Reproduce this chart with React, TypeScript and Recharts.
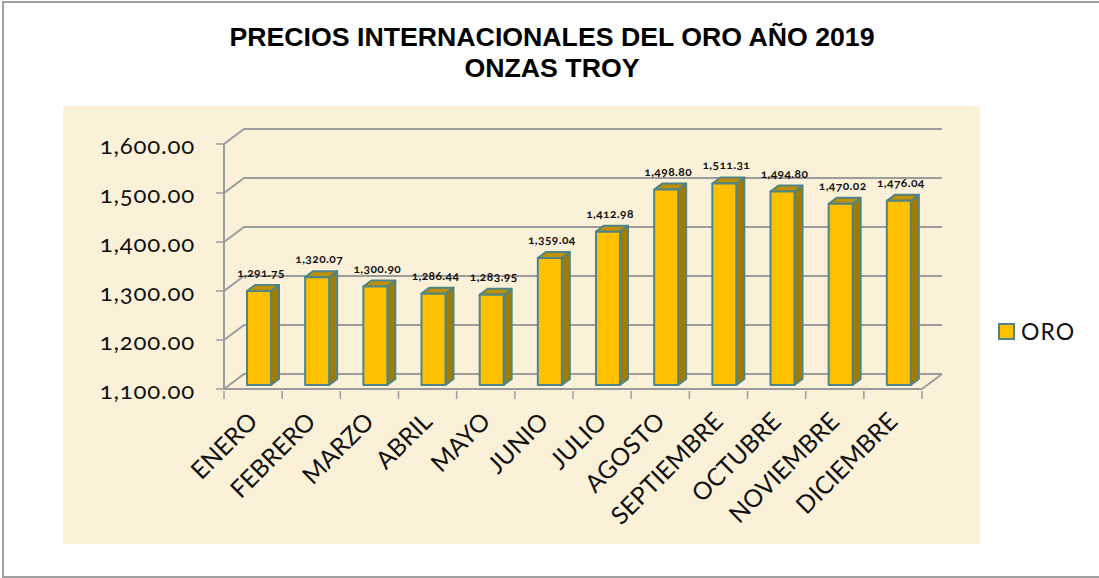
import { Bar, BarChart, CartesianGrid, LabelList, Legend, XAxis, YAxis } from "recharts";

const months = [
  "ENERO", "FEBRERO", "MARZO", "ABRIL", "MAYO", "JUNIO",
  "JULIO", "AGOSTO", "SEPTIEMBRE", "OCTUBRE", "NOVIEMBRE", "DICIEMBRE",
];
const oro = [
  1291.75, 1320.07, 1300.9, 1286.44, 1283.95, 1359.04,
  1412.98, 1498.8, 1511.31, 1494.8, 1470.02, 1476.04,
];
const yTicks = [1100, 1200, 1300, 1400, 1500, 1600];
const titleLines = ["PRECIOS INTERNACIONALES DEL ORO AÑO 2019", "ONZAS TROY"];

const data = months.map((month, i) => ({ month, ORO: oro[i] }));

const W = 1099;
const H = 578;
const GRID = "#9c9c9c";
const EDGE = "#4f8587";
const FONT = "Lato, 'Open Sans', sans-serif";
const DEPTH_X = 20;
const DEPTH_Y = 15;

const money = (v: number) =>
  v.toLocaleString("en-US", { minimumFractionDigits: 2, maximumFractionDigits: 2 });

// front face, side and top of a fake 3D column, sitting mid way in the floor
function Column3D({ x, y, width, height }: any) {
  const left = x + 6;
  const right = left + width;
  const top = y - 4;
  const bottom = top + height;
  const dx = 8;
  const dy = 6;
  const common = { stroke: EDGE, strokeWidth: 2, strokeLinejoin: "round" as const };
  return (
    <g>
      <path
        d={`M${right},${top} L${right + dx},${top - dy} L${right + dx},${bottom - dy} L${right},${bottom} Z`}
        fill="#a07c00"
        {...common}
      />
      <path
        d={`M${left},${top} L${left + dx},${top - dy} L${right + dx},${top - dy} L${right},${top} Z`}
        fill="#bf9000"
        {...common}
      />
      <rect x={left} y={top} width={width} height={height} fill="#ffc000" {...common} />
    </g>
  );
}

function ValueLabel({ x, y, width, value }: any) {
  return (
    <text
      x={x + width / 2 + 8}
      y={y - 18}
      textAnchor="middle"
      fontFamily={FONT}
      fontSize={12}
      fontWeight={700}
      letterSpacing={0.4}
      fill="#111"
      style={{ fontVariantNumeric: "oldstyle-nums" }}
    >
      {money(value)}
    </text>
  );
}

// the ticks of this chart fall between the months, so they are drawn here
function MonthTick({ x, y, payload, index, visibleTicksCount, width }: any) {
  const half = width / months.length / 2;
  const axisY = y - 8;
  const mark = { stroke: GRID, strokeWidth: 1.5 };
  return (
    <g>
      <line x1={x - half} x2={x - half} y1={axisY} y2={axisY + 8} {...mark} />
      {index === visibleTicksCount - 1 ? (
        <line x1={x + half} x2={x + half} y1={axisY} y2={axisY + 8} {...mark} />
      ) : null}
      <text
        x={x + 6}
        y={y + 24}
        textAnchor="end"
        transform={`rotate(-45 ${x + 6} ${y + 24})`}
        fontFamily={FONT}
        fontSize={24.5}
        fill="#111"
      >
        {payload.value}
      </text>
    </g>
  );
}

function ValueTick({ x, y, payload }: any) {
  return (
    <text
      x={x - 19}
      y={y + 10}
      textAnchor="end"
      fontFamily={FONT}
      fontSize={24}
      letterSpacing={0.8}
      fill="#111"
      style={{ fontVariantNumeric: "oldstyle-nums" }}
    >
      {money(payload.value)}
    </text>
  );
}

// back wall line plus the diagonal that joins it to the front axis
function WallLine({ x1, x2, y1, index }: any) {
  const line = { stroke: GRID, strokeWidth: 2, fill: "none" };
  return (
    <g key={index}>
      <path d={`M${x1},${y1} L${x1 + DEPTH_X},${y1 - DEPTH_Y} L${x2 + DEPTH_X},${y1 - DEPTH_Y}`} {...line} />
      {y1 > 380 ? <path d={`M${x2},${y1} L${x2 + DEPTH_X},${y1 - DEPTH_Y}`} {...line} /> : null}
    </g>
  );
}

function OroLegend() {
  return (
    <div style={{ display: "flex", alignItems: "center", fontFamily: FONT, fontSize: 23, letterSpacing: 1, color: "#111" }}>
      <span
        style={{
          width: 13,
          height: 13,
          background: "#ffc000",
          border: `2px solid ${EDGE}`,
          marginRight: 6,
          display: "inline-block",
        }}
      />
      ORO
    </div>
  );
}

export default function App() {
  return (
    <div style={{ position: "absolute", left: 0, top: 0, width: W, height: H, background: "#fff", overflow: "hidden" }}>
      <div
        style={{
          position: "absolute",
          left: 2,
          top: 1,
          width: W,
          height: H - 1,
          borderLeft: "2px solid #a0a0a0",
          borderTop: "2px solid #a0a0a0",
          borderBottom: "2px solid #a0a0a0",
          boxSizing: "border-box",
        }}
      />
      <div style={{ position: "absolute", left: 63, top: 106, width: 917, height: 438, background: "#fbf1d9" }} />
      <div
        style={{
          position: "absolute",
          left: 0,
          top: 22,
          width: 1104,
          textAlign: "center",
          fontFamily: "'Liberation Sans', Arial, sans-serif",
          fontWeight: 700,
          fontSize: 26.7,
          lineHeight: "31px",
          color: "#000",
        }}
      >
        {titleLines.map((t) => (
          <div key={t}>{t}</div>
        ))}
      </div>
      <div style={{ position: "absolute", left: 0, top: 0 }}>
        <BarChart
          width={W}
          height={H}
          data={data}
          barCategoryGap={0}
          margin={{ top: 144, right: 87, bottom: 49, left: 124 }}
        >
          <CartesianGrid vertical={false} horizontal={(props: any) => <WallLine {...props} />} />
          <XAxis
            dataKey="month"
            interval={0}
            height={140}
            tick={<MonthTick />}
            tickLine={false}
            tickSize={8}
            axisLine={{ stroke: GRID, strokeWidth: 2 }}
          />
          <YAxis
            width={100}
            domain={[1100, 1600]}
            ticks={yTicks}
            tick={<ValueTick />}
            tickSize={8}
            axisLine={{ stroke: GRID, strokeWidth: 2 }}
            tickLine={{ stroke: GRID, strokeWidth: 1.5 }}
          />
          <Legend
            layout="vertical"
            align="right"
            verticalAlign="top"
            content={<OroLegend />}
            wrapperStyle={{ left: 998, top: 317, width: 90 }}
          />
          <Bar dataKey="ORO" barSize={24} shape={<Column3D />} isAnimationActive={false}>
            <LabelList dataKey="ORO" content={<ValueLabel />} />
          </Bar>
        </BarChart>
      </div>
    </div>
  );
}
